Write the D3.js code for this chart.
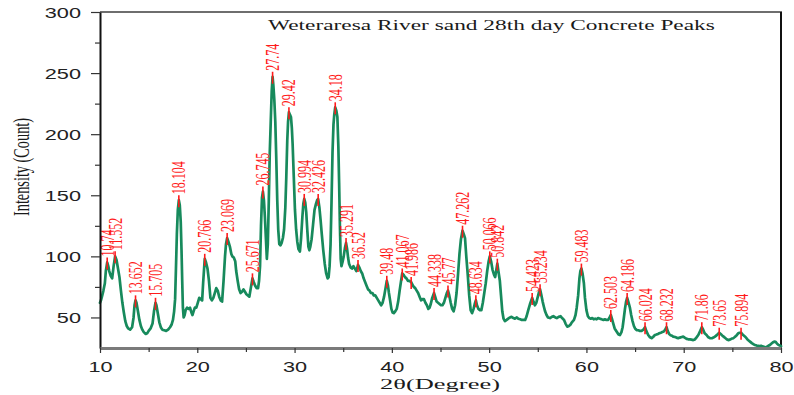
<!DOCTYPE html>
<html>
<head>
<meta charset="utf-8">
<script src="https://cdn.jsdelivr.net/npm/d3@7"></script>
<style>
  html, body { margin: 0; padding: 0; background: #fff; }
  svg { display: block; }
</style>
</head>
<body>
<svg id="chart" width="794" height="395"></svg>
<script>
// XRD scan: [2θ in degrees, intensity in counts]
const scan = [
  [10.0,62],[10.1,64],[10.2,67],[10.35,72],[10.5,78],[10.6,88],[10.74,95],[10.85,92],[10.95,88],[11.1,84],
  [11.25,82],[11.4,92],[11.552,100],[11.7,97],[11.85,90],[12.0,83],[12.15,72],[12.3,62],[12.45,54],[12.6,47],
  [12.75,43],[12.9,41],[13.1,40],[13.3,42],[13.45,50],[13.55,60],[13.652,64],[13.75,62],[13.9,55],[14.05,48],
  [14.2,43],[14.35,40],[14.5,38],[14.7,36.5],[14.85,37],[15.0,39],[15.2,41],[15.4,45],[15.55,55],[15.705,62],
  [15.8,60],[15.95,53],[16.1,46],[16.25,42],[16.4,40],[16.6,39.5],[16.8,39],[17.0,40],[17.2,42],[17.35,44],
  [17.5,48],[17.62,55],[17.72,65],[17.8,88],[17.9,118],[18.0,138],[18.104,146],[18.2,142],[18.3,128],[18.38,105],
  [18.45,80],[18.52,58],[18.6,50],[18.7,52],[18.8,56],[18.95,58],[19.1,57],[19.25,58],[19.4,54],[19.5,52],
  [19.62,55],[19.75,58],[19.9,58],[20.05,62],[20.2,66],[20.35,65],[20.5,64],[20.6,78],[20.766,98],[20.9,95],
  [21.05,90],[21.2,80],[21.35,66],[21.5,64],[21.65,66],[21.8,70],[21.95,74],[22.1,72],[22.25,67],[22.4,64],
  [22.55,63],[22.7,80],[22.85,100],[22.95,110],[23.069,115],[23.2,112],[23.35,108],[23.5,102],[23.6,100],[23.75,99],
  [23.9,96],[24.0,88],[24.15,80],[24.3,73],[24.45,70],[24.6,71],[24.75,73],[24.9,71],[25.05,69],[25.2,68],
  [25.35,67],[25.5,74],[25.671,82],[25.8,79],[25.95,76],[26.1,74],[26.25,74],[26.35,80],[26.45,92],[26.55,125],
  [26.65,148],[26.745,153],[26.85,146],[26.95,132],[27.05,115],[27.15,98],[27.25,110],[27.35,145],[27.45,185],[27.55,210],
  [27.65,235],[27.74,247],[27.82,240],[27.92,228],[28.02,210],[28.12,180],[28.22,146],[28.32,122],[28.43,110],[28.55,109],
  [28.67,111],[28.8,115],[28.92,122],[29.05,140],[29.15,165],[29.25,195],[29.33,210],[29.42,218],[29.52,216],[29.63,214],
  [29.72,205],[29.8,192],[29.92,165],[30.04,138],[30.16,122],[30.28,112],[30.4,106],[30.55,104],[30.67,115],[30.8,132],
  [30.9,143],[30.994,147],[31.1,144],[31.2,136],[31.32,120],[31.42,108],[31.52,105],[31.62,108],[31.75,114],[31.9,126],
  [32.05,138],[32.2,143],[32.32,146],[32.426,147],[32.55,140],[32.67,130],[32.8,118],[32.95,105],[33.1,94],[33.25,86],
  [33.4,82],[33.5,83],[33.6,92],[33.7,110],[33.8,145],[33.9,185],[34.0,208],[34.08,216],[34.18,222],[34.3,219],
  [34.4,214],[34.5,190],[34.58,160],[34.66,125],[34.74,98],[34.82,92],[34.92,95],[35.05,100],[35.18,107],[35.291,111],
  [35.4,106],[35.5,99],[35.6,94],[35.75,91],[35.9,90],[36.05,92],[36.2,90],[36.35,88],[36.52,93],[36.65,91],
  [36.8,88],[36.95,86],[37.1,82],[37.25,79],[37.4,76],[37.55,73],[37.7,72],[37.85,70],[38.0,70],[38.15,68],
  [38.3,68],[38.45,66],[38.6,64],[38.75,62],[38.9,60],[39.05,62],[39.2,67],[39.35,74],[39.48,80],[39.6,76],
  [39.7,70],[39.82,64],[39.95,57],[40.08,54],[40.2,53.5],[40.35,55],[40.5,57],[40.65,63],[40.8,72],[40.95,80],
  [41.067,86],[41.2,85],[41.35,83],[41.5,82],[41.65,80],[41.8,80],[41.986,79],[42.1,77],[42.25,75],[42.4,74],
  [42.55,72],[42.7,70],[42.85,67],[43.0,64],[43.15,65],[43.3,65],[43.45,62],[43.6,60],[43.75,57],[43.88,58],
  [44.0,61],[44.15,66],[44.338,70],[44.45,67],[44.6,63],[44.75,62],[44.9,61],[45.05,60],[45.2,60],[45.35,62],
  [45.5,66],[45.65,70],[45.77,72],[45.9,68],[46.05,62],[46.2,57],[46.35,55],[46.5,60],[46.65,70],[46.8,85],
  [46.95,102],[47.1,114],[47.262,121],[47.4,118],[47.52,115],[47.65,100],[47.8,85],[47.95,68],[48.1,56],[48.25,53.5],
  [48.4,57],[48.52,61],[48.634,64],[48.75,60],[48.9,57],[49.05,56],[49.2,56],[49.35,62],[49.5,70],[49.65,78],
  [49.8,88],[49.95,96],[50.066,100],[50.2,96],[50.35,89],[50.5,85],[50.62,83],[50.72,88],[50.842,94],[50.95,88],
  [51.1,80],[51.22,68],[51.35,55],[51.48,49],[51.62,47],[51.8,48],[51.96,49],[52.15,50],[52.3,50.5],[52.5,49.5],
  [52.65,49],[52.85,50],[53.0,49],[53.2,48.5],[53.35,48],[53.55,48],[53.7,48],[53.85,51],[54.02,56],[54.2,61],
  [54.423,66],[54.55,63],[54.7,60],[54.85,62],[54.94,65],[55.1,70],[55.234,73],[55.35,69],[55.5,63],[55.62,59],
  [55.75,55],[55.9,52],[56.05,50],[56.25,49.5],[56.45,50.5],[56.6,51],[56.8,50],[56.95,49.5],[57.15,50.5],[57.35,51],
  [57.5,49.5],[57.7,48],[57.85,45],[58.03,42.5],[58.2,43],[58.35,44],[58.5,46],[58.72,48],[58.88,52],[59.0,58],
  [59.15,68],[59.28,82],[59.38,88],[59.483,90],[59.6,86],[59.74,78],[59.85,66],[60.0,56],[60.15,51],[60.3,49.5],
  [60.45,49],[60.6,49.5],[60.75,48.5],[60.9,49],[61.05,48.5],[61.2,49.5],[61.4,49],[61.55,48.5],[61.75,48],[61.9,48.5],
  [62.05,48],[62.24,48],[62.38,50],[62.503,52],[62.62,49],[62.76,45],[62.9,41],[63.1,38.5],[63.3,36],[63.44,35.6],
  [63.6,38],[63.72,42],[63.85,50],[63.96,57],[64.08,63],[64.186,66],[64.3,63],[64.47,58],[64.6,52],[64.74,47],
  [64.88,43],[65.0,41],[65.16,39.7],[65.35,39.5],[65.5,39],[65.67,39],[65.85,40],[66.024,42],[66.15,39],[66.35,35.6],
  [66.5,34],[66.7,33],[66.85,34],[67.04,35.6],[67.2,36],[67.35,36.5],[67.48,37],[67.65,37.5],[67.8,38],[67.95,38.5],
  [68.1,40],[68.232,42],[68.35,39],[68.5,36.5],[68.65,35.5],[68.8,35],[68.92,34.3],[69.1,34],[69.25,33.5],[69.44,33],
  [69.6,33.5],[69.8,34],[69.95,34.3],[70.1,33.5],[70.3,32.5],[70.47,32.1],[70.65,32],[70.8,31.8],[70.98,31.5],[71.15,32],
  [71.3,33.5],[71.5,35.6],[71.7,39],[71.86,42],[72.0,40],[72.15,37],[72.35,35.6],[72.5,34],[72.7,33],[72.9,33],
  [73.05,33.5],[73.21,34.3],[73.4,35.5],[73.52,36.5],[73.65,37.5],[73.8,36.5],[73.95,35.3],[74.1,34.3],[74.3,33],[74.45,32],
  [74.58,31.5],[74.75,31.8],[74.9,32.5],[75.09,33],[75.25,34],[75.45,35.5],[75.6,37],[75.75,37.5],[75.894,37.5],[76.05,36],
  [76.2,35],[76.35,34],[76.55,32],[76.7,31],[76.85,30],[77.0,29],[77.15,28.2],[77.32,27.5],[77.5,27],[77.65,26.8],
  [77.8,26.6],[77.95,26.8],[78.1,26.3],[78.25,26],[78.4,25.5],[78.55,26],[78.7,26.8],[78.86,27.5],[79.0,28.5],[79.15,29.5],
  [79.3,30.2],[79.45,30],[79.6,28.5],[79.75,27.5],[79.9,27],[80.0,26.5]
];

// Labelled reflections (2θ, as printed above each peak)
const peakLabels = [
  "10.74","11.552","13.652","15.705","18.104","20.766","23.069","25.671","26.745","27.74",
  "29.42","30.994","32.426","34.18","35.291","36.52","39.48","41.067","41.986","44.338",
  "45.77","47.262","48.634","50.066","50.842","54.423","55.234","59.483","62.503","64.186",
  "66.024","68.232","71.86","73.65","75.894"
];

const xTicks = [10, 20, 30, 40, 50, 60, 70, 80];
const xMinorTicks = [15, 25, 35, 45, 55, 65, 75];
const yTicks = [50, 100, 150, 200, 250, 300];
const yMinorTicks = [75, 125, 175, 225, 275];

const chartTitle = "Weteraresa River sand 28th day Concrete Peaks";
const xTitle = "2θ(Degree)";
const yTitle = "Intensity (Count)";

// ---- layout ----
const plot = { left: 100, right: 781, top: 12, bottom: 348 };
const STRETCH = 1.55;               // horizontal widening applied to all lettering
const lineColor = "#178a5c";
const peakColor = "#ff1a1a";
const serif = "'Liberation Serif', 'Times New Roman', serif";
const sans = "'Liberation Sans', Arial, sans-serif";

const svg = d3.select("#chart");

const x = d3.scaleLinear().domain([10, 80]).range([plot.left, plot.right]);
const y = d3.scaleLinear().domain([25, 300]).range([plot.bottom, plot.top]);

// ---- frame: top and right borders ----
svg.append("line")
  .attr("x1", plot.left).attr("x2", plot.right + 1)
  .attr("y1", plot.top).attr("y2", plot.top)
  .attr("stroke", "#6e6e6e").attr("stroke-width", 2);
svg.append("line")
  .attr("x1", plot.right).attr("x2", plot.right)
  .attr("y1", plot.top).attr("y2", plot.bottom)
  .attr("stroke", "#111").attr("stroke-width", 2);

// ---- diffraction profile ----
const line = d3.line().x(d => x(d[0])).y(d => y(d[1]));
svg.append("path")
  .datum(scan)
  .attr("d", line)
  .attr("fill", "none")
  .attr("stroke", lineColor)
  .attr("stroke-width", 2.7)
  .attr("stroke-linejoin", "round")
  .attr("stroke-linecap", "round");

// ---- peak markers and labels ----
const bis = d3.bisector(d => d[0]).center;
const peaks = peakLabels.map(label => {
  const t = +label;
  const exact = scan.find(d => d[0] === t);
  const pt = exact || scan[bis(scan, t)];
  return { label, t, counts: pt[1] };
});

const pg = svg.append("g").attr("class", "peaks");
pg.selectAll("line")
  .data(peaks)
  .join("line")
  .attr("x1", d => x(d.t)).attr("x2", d => x(d.t))
  .attr("y1", d => y(d.counts) - 5).attr("y2", d => y(d.counts) + 7)
  .attr("stroke", peakColor).attr("stroke-width", 1.6);

pg.selectAll("text")
  .data(peaks)
  .join("text")
  .attr("transform", d => `translate(${x(d.t)},${y(d.counts) - 6}) scale(${STRETCH},1) rotate(-90)`)
  .attr("dy", "0.35em")
  .attr("text-anchor", "start")
  .attr("font-family", serif)
  .attr("font-size", 12)
  .attr("fill", peakColor)
  .text(d => d.label);

// ---- axes ----
const yAxis = svg.append("g")
  .attr("transform", `translate(${plot.left},0)`)
  .call(d3.axisLeft(y).tickValues(yTicks).tickSize(9).tickSizeOuter(0));
yAxis.select(".domain").attr("stroke", "#111").attr("stroke-width", 2);
yAxis.selectAll(".tick line").attr("stroke", "#333").attr("stroke-width", 1.2);
yAxis.selectAll(".tick text")
  .attr("x", null).attr("dy", "0.36em")
  .attr("transform", `translate(-19,0) scale(${STRETCH},1)`)
  .attr("font-family", sans).attr("font-size", 14).attr("fill", "#222");

const yMinor = svg.append("g")
  .attr("transform", `translate(${plot.left},0)`)
  .call(d3.axisLeft(y).tickValues(yMinorTicks).tickSize(5).tickFormat(""));
yMinor.select(".domain").remove();
yMinor.selectAll(".tick line").attr("stroke", "#333").attr("stroke-width", 1.2);

const xAxis = svg.append("g")
  .attr("transform", `translate(0,${plot.bottom})`)
  .call(d3.axisBottom(x).tickValues(xTicks).tickSize(5).tickSizeOuter(0));
xAxis.select(".domain").attr("stroke", "#7a7a7a").attr("stroke-width", 3);
xAxis.selectAll(".tick line").attr("stroke", "#333").attr("stroke-width", 1.2);
xAxis.selectAll(".tick text")
  .attr("y", null).attr("dy", null)
  .attr("transform", `translate(0,24) scale(${STRETCH},1)`)
  .attr("font-family", sans).attr("font-size", 14).attr("fill", "#222");

const xMinor = svg.append("g")
  .attr("transform", `translate(0,${plot.bottom})`)
  .call(d3.axisBottom(x).tickValues(xMinorTicks).tickSize(4).tickFormat(""));
xMinor.select(".domain").remove();
xMinor.selectAll(".tick line").attr("stroke", "#333").attr("stroke-width", 1.2);

svg.selectAll(".tick text").attr("text-anchor", function () {
  return this.parentNode.parentNode === yAxis.node() ? "end" : "middle";
});

// ---- titles (widened to their measured spans) ----
function fitText(sel, width) {
  const w = sel.node().getComputedTextLength();
  return width / w;
}

const title = svg.append("text")
  .attr("font-family", serif).attr("font-size", 15).attr("fill", "#1a1a1a")
  .text(chartTitle);
title.attr("transform", `translate(268,29.5) scale(${fitText(title, 447)},1)`);

const xt = svg.append("text")
  .attr("font-family", serif).attr("font-size", 15).attr("fill", "#1a1a1a")
  .attr("text-anchor", "middle")
  .text(xTitle);
xt.attr("transform", `translate(440,389) scale(${fitText(xt, 120)},1)`);

const yt = svg.append("text")
  .attr("font-family", serif).attr("font-size", 14.3).attr("fill", "#1a1a1a")
  .attr("text-anchor", "middle")
  .text(yTitle);
yt.attr("transform", `translate(29,167) scale(${STRETCH},1) rotate(-90)`);
</script>
</body>
</html>
